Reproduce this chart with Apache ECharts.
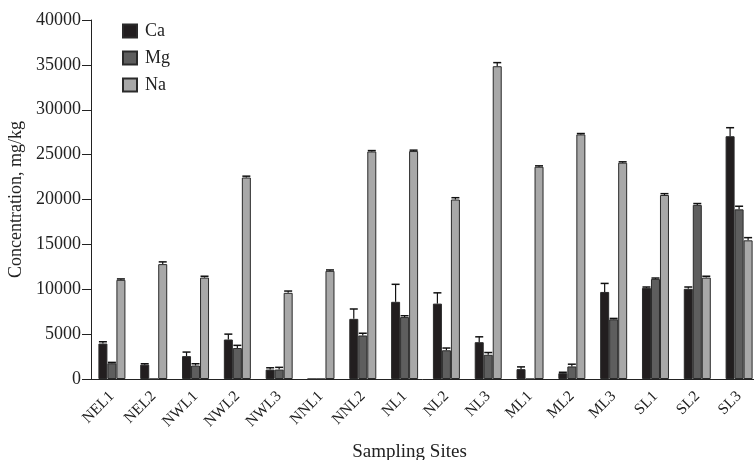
<!DOCTYPE html>
<html>
<head>
<meta charset="utf-8">
<script src="https://cdn.jsdelivr.net/npm/echarts@6/dist/echarts.min.js"></script>
<style>
html,body{margin:0;padding:0;background:#fff;}
#c{width:754px;height:460px;}
</style>
</head>
<body>
<div id="c"></div>
<script>
var categories = ['NEL1','NEL2','NWL1','NWL2','NWL3','NNL1','NNL2','NL1','NL2','NL3','ML1','ML2','ML3','SL1','SL2','SL3'];
var seriesNames = ['Ca','Mg','Na'];
var caValues = [3950, 1600, 2550, 4400, 1050, 0, 6700, 8600, 8400, 4100, 1100, 650, 9700, 10150, 10050, 27050];
var caErrors = [200, 100, 450, 600, 200, 0, 1100, 1950, 1200, 600, 250, 100, 950, 100, 200, 950];
var mgValues = [1750, 0, 1500, 3450, 1050, 0, 4850, 6900, 3200, 2700, 0, 1400, 6650, 11150, 19400, 18900];
var mgErrors = [100, 0, 200, 300, 250, 0, 250, 150, 250, 250, 0, 250, 100, 100, 150, 350];
var naValues = [11050, 12800, 11300, 22450, 9600, 12050, 25350, 25400, 20000, 34850, 23650, 27250, 24100, 20500, 11300, 15450];
var naErrors = [100, 250, 150, 150, 200, 100, 100, 100, 200, 400, 100, 100, 100, 150, 150, 300];
var yTicks = [0, 5000, 10000, 15000, 20000, 25000, 30000, 35000, 40000];

var colors = ['#221e1f', '#5e5e5e', '#a8a8a8'];
var valuesList = [caValues, mgValues, naValues];
var errorsList = [caErrors, mgErrors, naErrors];
var BAR_W = 9;
var FONT = 'Liberation Serif';

var chart = echarts.init(document.getElementById('c'), null, {renderer: 'canvas'});

var series = [];
seriesNames.forEach(function (name, i) {
  series.push({
    name: name,
    type: 'bar',
    barWidth: BAR_W,
    barGap: '0%',
    data: valuesList[i],
    itemStyle: {color: colors[i], borderColor: '#2a2a2a', borderWidth: 1},
    emphasis: {disabled: true},
    z: 2
  });
});
seriesNames.forEach(function (name, i) {
  var d = valuesList[i].map(function (v, k) { return [k, v, errorsList[i][k]]; });
  series.push({
    type: 'custom',
    name: name + '_err',
    data: d,
    z: 3,
    silent: true,
    encode: {x: 0, y: 1},
    renderItem: function (params, api) {
      var v = api.value(1), e = api.value(2);
      if (!v || !e) return null;
      var base = api.coord([api.value(0), v]);
      var top = api.coord([api.value(0), v + e]);
      var x = base[0] + (i - 1) * BAR_W;
      var hw = 4;
      return {
        type: 'group',
        children: [
          {type: 'line', shape: {x1: x, y1: base[1], x2: x, y2: top[1]}, style: {stroke: '#111', lineWidth: 1.2}},
          {type: 'line', shape: {x1: x - hw, y1: top[1], x2: x + hw, y2: top[1]}, style: {stroke: '#111', lineWidth: 1.5}}
        ]
      };
    }
  });
});

var option = {
  backgroundColor: '#fff',
  animation: false,
  textStyle: {fontFamily: FONT},
  legend: {
    data: seriesNames,
    orient: 'vertical',
    left: 117,
    top: 17,
    icon: 'rect',
    itemWidth: 14,
    itemHeight: 13,
    itemGap: 9,
    textStyle: {fontFamily: FONT, fontSize: 18, color: '#222', padding: [0, 0, 0, 3]},
    selectedMode: false
  },
  grid: {left: 91, top: 20, width: 669, height: 359, containLabel: false, outerBoundsMode: 'none'},
  xAxis: {
    type: 'category',
    data: categories,
    name: 'Sampling Sites',
    nameLocation: 'middle',
    nameGap: 64,
    nameTextStyle: {fontFamily: FONT, fontSize: 19, color: '#222', padding: [0, 32, 0, 0]},
    axisLine: {lineStyle: {color: '#222', width: 1}},
    axisTick: {length: 9, lineStyle: {color: '#222'}},
    axisLabel: {rotate: 45, fontFamily: FONT, fontSize: 15.5, color: '#222', margin: 15, interval: 0},
    splitLine: {show: false}
  },
  yAxis: {
    type: 'value',
    min: 0,
    max: 40000,
    interval: 5000,
    name: 'Concentration, mg/kg',
    nameLocation: 'middle',
    nameGap: 65,
    nameTextStyle: {fontFamily: FONT, fontSize: 18, color: '#222'},
    axisLine: {show: true, lineStyle: {color: '#222', width: 1}},
    axisTick: {show: true, length: 9, lineStyle: {color: '#222'}},
    axisLabel: {fontFamily: FONT, fontSize: 18, color: '#222', margin: 10,
      formatter: function (v) { return yTicks.indexOf(v) >= 0 ? String(v) : ''; }},
    splitLine: {show: false}
  },
  series: series
};
chart.setOption(option);
</script>
</body>
</html>
